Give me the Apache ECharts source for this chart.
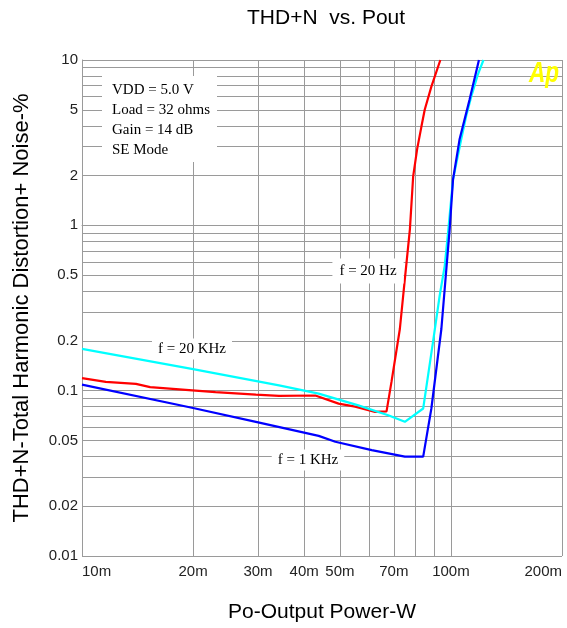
<!DOCTYPE html>
<html>
<head>
<meta charset="utf-8">
<script src="https://cdn.jsdelivr.net/npm/echarts/dist/echarts.min.js"></script>
<style>html,body{margin:0;padding:0;background:#fff;}#chart{width:567px;height:628px;}</style>
</head>
<body>
<div id="chart"></div>
<script>
// ---- data (power in mW, THD+N in %) ----
const xTickLabels = [10, 20, 30, 40, 50, 70, 100, 200];
const xGridValues = [10, 20, 30, 40, 50, 60, 70, 80, 90, 100, 200];
const yTickLabels = [0.01, 0.02, 0.05, 0.1, 0.2, 0.5, 1, 2, 5, 10];
const yGridValues = [0.01, 0.02, 0.03, 0.04, 0.05, 0.06, 0.07, 0.08, 0.09,
                     0.1, 0.2, 0.3, 0.4, 0.5, 0.6, 0.7, 0.8, 0.9,
                     1, 2, 3, 4, 5, 6, 7, 8, 9, 10];

const hz20X = [10, 11.6, 14, 15.3, 19.9, 23, 29.6, 34.2, 42.9, 49.6, 55, 62.3, 66.9, 69, 72.7, 75, 77.4, 79, 81, 83.2, 84.9, 88.5, 93.6];
const hz20Y = [0.119, 0.113, 0.110, 0.105, 0.1005, 0.098, 0.0946, 0.093, 0.0935, 0.0835, 0.080, 0.0744, 0.075, 0.113, 0.236, 0.473, 0.946, 1.98, 2.9, 3.97, 5.0, 6.9, 10];

const khz20X = [10, 20, 34.2, 43.8, 56.1, 67.6, 75, 84.1, 89.5, 93.2, 96.2, 98.2, 101.3, 106.6, 109.9, 113.5, 118.2, 122.5];
const khz20Y = [0.179, 0.135, 0.1076, 0.096, 0.0815, 0.071, 0.0648, 0.078, 0.2, 0.375, 0.569, 0.9, 1.89, 3.3, 4.55, 6.0, 8.13, 10];

const khz1X = [10, 20, 29.6, 43.8, 48.6, 61, 75, 84.1, 88.5, 94.2, 99.2, 101.3, 105.5, 112.3, 119.1];
const khz1Y = [0.1087, 0.0786, 0.0648, 0.0533, 0.0491, 0.0437, 0.0399, 0.0399, 0.078, 0.236, 0.946, 1.89, 3.3, 5.74, 10];

// ---- helpers ----
const lg = v => Math.log10(v);
const pairs = (xs, ys) => xs.map((v, i) => [lg(v), lg(ys[i])]);
const SANS = '"Liberation Sans", Arial, sans-serif';
const SERIF = '"Liberation Serif", "Times New Roman", serif';
const GRID = '#9a9a9a';

const chart = echarts.init(document.getElementById('chart'), null, {renderer: 'canvas'});

function labelBox(text, x, y, pad) {
  return {
    type: 'text', x: x, y: y, z: 20,
    style: {
      text: text, fontSize: 15, fontFamily: SERIF, fill: '#000',
      align: 'center', verticalAlign: 'middle',
      textAlign: 'center', textVerticalAlign: 'middle',
      backgroundColor: '#fff', padding: pad
    }
  };
}
function infoLine(text, y) {
  return {
    type: 'text', x: 112, y: y, z: 21,
    style: {
      text: text, fontSize: 15, fontFamily: SERIF, fill: '#000',
      align: 'left', verticalAlign: 'middle',
      textAlign: 'left', textVerticalAlign: 'middle'
    }
  };
}

const option = {
  backgroundColor: '#fff',
  animation: false,
  title: {
    text: 'THD+N  vs. Pout',
    left: 242, top: 3,
    textStyle: {fontSize: 21, fontWeight: 'normal', color: '#000', fontFamily: SANS}
  },
  grid: {left: 82, right: 5, top: 60, bottom: 70, containLabel: false},
  xAxis: {
    type: 'value',
    min: lg(10), max: lg(200),
    name: 'Po-Output Power-W',
    nameLocation: 'middle', nameGap: 46,
    nameTextStyle: {fontSize: 21, color: '#000', fontFamily: SANS},
    axisLine: {show: true, lineStyle: {color: GRID, width: 1}},
    axisTick: {show: false, customValues: xGridValues.map(v => lg(v))},
    axisLabel: {
      customValues: xTickLabels.map(v => lg(v)),
      formatter: v => Math.round(Math.pow(10, v)) + 'm',
      alignMinLabel: 'left', alignMaxLabel: 'right',
      fontSize: 15, color: '#222', fontFamily: SANS, margin: 8
    },
    splitLine: {show: true, lineStyle: {color: GRID, width: 1}}
  },
  yAxis: {
    type: 'value',
    min: lg(0.01), max: lg(10),
    name: 'THD+N-Total Harmonic Distortion+ Noise-%',
    nameLocation: 'middle', nameGap: 49, nameRotate: 90,
    nameTextStyle: {fontSize: 22, color: '#000', fontFamily: SANS},
    axisLine: {show: true, lineStyle: {color: GRID, width: 1}},
    axisTick: {show: false, customValues: yGridValues.map(v => lg(v))},
    axisLabel: {
      customValues: yTickLabels.map(v => lg(v)),
      formatter: v => String(Number(Math.pow(10, v).toPrecision(3))),
      fontSize: 15, color: '#222', fontFamily: SANS, margin: 4
    },
    splitLine: {show: true, lineStyle: {color: GRID, width: 1}}
  },
  series: [
    {name: 'f = 20 Hz', type: 'line', data: pairs(hz20X, hz20Y), showSymbol: false, symbol: 'none',
     lineStyle: {color: '#ff0000', width: 2.2}, z: 3},
    {name: 'f = 20 KHz', type: 'line', data: pairs(khz20X, khz20Y), showSymbol: false, symbol: 'none',
     lineStyle: {color: '#00ffff', width: 2.2}, z: 3},
    {name: 'f = 1 KHz', type: 'line', data: pairs(khz1X, khz1Y), showSymbol: false, symbol: 'none',
     lineStyle: {color: '#0000ff', width: 2.2}, z: 4}
  ],
  graphic: [
    {type: 'rect', z: 20, shape: {x: 102, y: 76, width: 115, height: 86}, style: {fill: '#fff'}},
    infoLine('VDD = 5.0 V', 90),
    infoLine('Load = 32 ohms', 110),
    infoLine('Gain = 14 dB', 130),
    infoLine('SE Mode', 150),
    labelBox('f = 20 KHz', 192, 349, [3, 6]),
    labelBox('f = 20 Hz', 368, 271, [5, 7]),
    labelBox('f = 1 KHz', 308, 460, [3, 6]),
    {type: 'text', x: 529, y: 59, z: 22, scaleX: 0.75,
     style: {text: 'Ap', fontSize: 30, fontWeight: 'bold', fontStyle: 'italic', fontFamily: SANS,
             fill: '#ffff00', align: 'left', verticalAlign: 'top', textAlign: 'left', textVerticalAlign: 'top'}}
  ]
};
chart.setOption(option);
</script>
</body>
</html>
